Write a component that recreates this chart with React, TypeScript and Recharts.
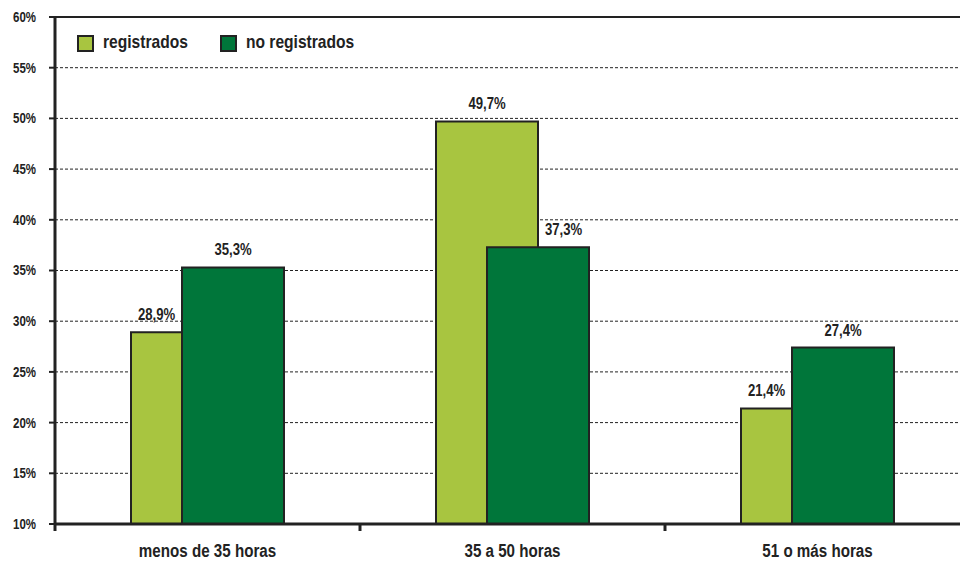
import { BarChart, Bar, XAxis, YAxis, CartesianGrid, ReferenceLine, LabelList } from 'recharts';

const categories = ['menos de 35 horas', '35 a 50 horas', '51 o más horas'];
const registrados = [28.9, 49.7, 21.4];
const noRegistrados = [35.3, 37.3, 27.4];
const seriesNames = ['registrados', 'no registrados'];
const yTicks = [10, 15, 20, 25, 30, 35, 40, 45, 50, 55, 60];

const data = categories.map((name, i) => ({
  name,
  reg: registrados[i],
  noReg: noRegistrados[i],
}));

// Liberation Sans squeezed horizontally to look like Arial Narrow
const FONT = '"Liberation Sans", Arial, sans-serif';
const NARROW = 0.82;
const LIGHT = '#a8c540';
const DARK = '#00763a';
const INK = '#222';
const BAR_SIZE = 102;
const BAR_GAP = -51;

const fmt = (v: number) => `${v.toFixed(1).replace('.', ',')}%`;

function NarrowText({ x, y, anchor, size, children, dy }: any) {
  return (
    <text
      transform={`translate(${x},${y}) scale(${NARROW},1)`}
      textAnchor={anchor}
      dy={dy}
      fontFamily={FONT}
      fontWeight="bold"
      fontSize={size}
      fill={INK}
    >
      {children}
    </text>
  );
}

// label centred over the part of the bar that is not under / next to the taller bar
function makeLabel(series: 'reg' | 'noReg') {
  return (props: any) => {
    const { x, y, width, index, value } = props;
    const own = series === 'reg' ? registrados[index] : noRegistrados[index];
    const other = series === 'reg' ? noRegistrados[index] : registrados[index];
    let cx = x + width / 2;
    if (own < other) {
      cx = series === 'reg' ? x + (width + BAR_GAP) / 2 : x + (width - BAR_GAP) / 2;
    }
    return (
      <NarrowText x={cx} y={y - 12} anchor="middle" size={16}>
        {fmt(Number(value))}
      </NarrowText>
    );
  };
}

const YTick = ({ x, y, payload }: any) => (
  <NarrowText x={x} y={y} anchor="end" size={14} dy="0.35em">
    {`${payload.value}%`}
  </NarrowText>
);

// category label plus a tick mark on the left edge of the category band
const CatTick = ({ x, y, payload }: any) => {
  const edge = x - (payload.offset ?? 0);
  return (
    <g>
      <line x1={edge} x2={edge} y1={y} y2={y + 7} stroke={INK} strokeWidth={3} />
      <NarrowText x={x} y={y + 33} anchor="middle" size={18.5}>
        {payload.value}
      </NarrowText>
    </g>
  );
};

function LegendBox() {
  const colors = [LIGHT, DARK];
  const squareX = [77, 220];
  return (
    <>
      {seriesNames.map((label, i) => (
        <div key={label}>
          <span
            style={{
              position: 'absolute',
              left: squareX[i],
              top: 35,
              width: 13,
              height: 13,
              background: colors[i],
              border: `2px solid ${INK}`,
            }}
          />
          <span
            style={{
              position: 'absolute',
              left: squareX[i] + 26,
              top: 31,
              fontFamily: FONT,
              fontWeight: 'bold',
              fontSize: 19,
              lineHeight: '22px',
              color: INK,
              whiteSpace: 'nowrap',
              transform: `scaleX(${NARROW})`,
              transformOrigin: 'left center',
            }}
          >
            {label}
          </span>
        </div>
      ))}
    </>
  );
}

export default function App() {
  return (
    <div style={{ position: 'absolute', left: 0, top: 0, width: 960, height: 562, overflow: 'hidden', background: '#fff' }}>
      <BarChart
        width={980}
        height={562}
        data={data}
        margin={{ top: 17, right: 10, bottom: 0, left: 0 }}
        barSize={BAR_SIZE}
        barGap={BAR_GAP}
      >
        <CartesianGrid vertical={false} stroke={INK} strokeDasharray="3 2" />
        <XAxis
          dataKey="name"
          height={38}
          axisLine={{ stroke: INK, strokeWidth: 3 }}
          tickLine={false}
          tickSize={0}
          tickMargin={0}
          tick={<CatTick />}
        />
        <YAxis
          domain={[10, 60]}
          ticks={yTicks}
          width={55}
          tickSize={6}
          tickMargin={13}
          tick={<YTick />}
          axisLine={{ stroke: INK, strokeWidth: 3 }}
          tickLine={{ stroke: INK, strokeWidth: 2 }}
          allowDataOverflow
        />
        <ReferenceLine y={60} stroke={INK} strokeWidth={2} />
        <Bar dataKey="reg" fill={LIGHT} stroke={INK} strokeWidth={2} isAnimationActive={false}>
          <LabelList dataKey="reg" content={makeLabel('reg')} />
        </Bar>
        <Bar dataKey="noReg" fill={DARK} stroke={INK} strokeWidth={2} isAnimationActive={false}>
          <LabelList dataKey="noReg" content={makeLabel('noReg')} />
        </Bar>
      </BarChart>
      <LegendBox />
    </div>
  );
}
